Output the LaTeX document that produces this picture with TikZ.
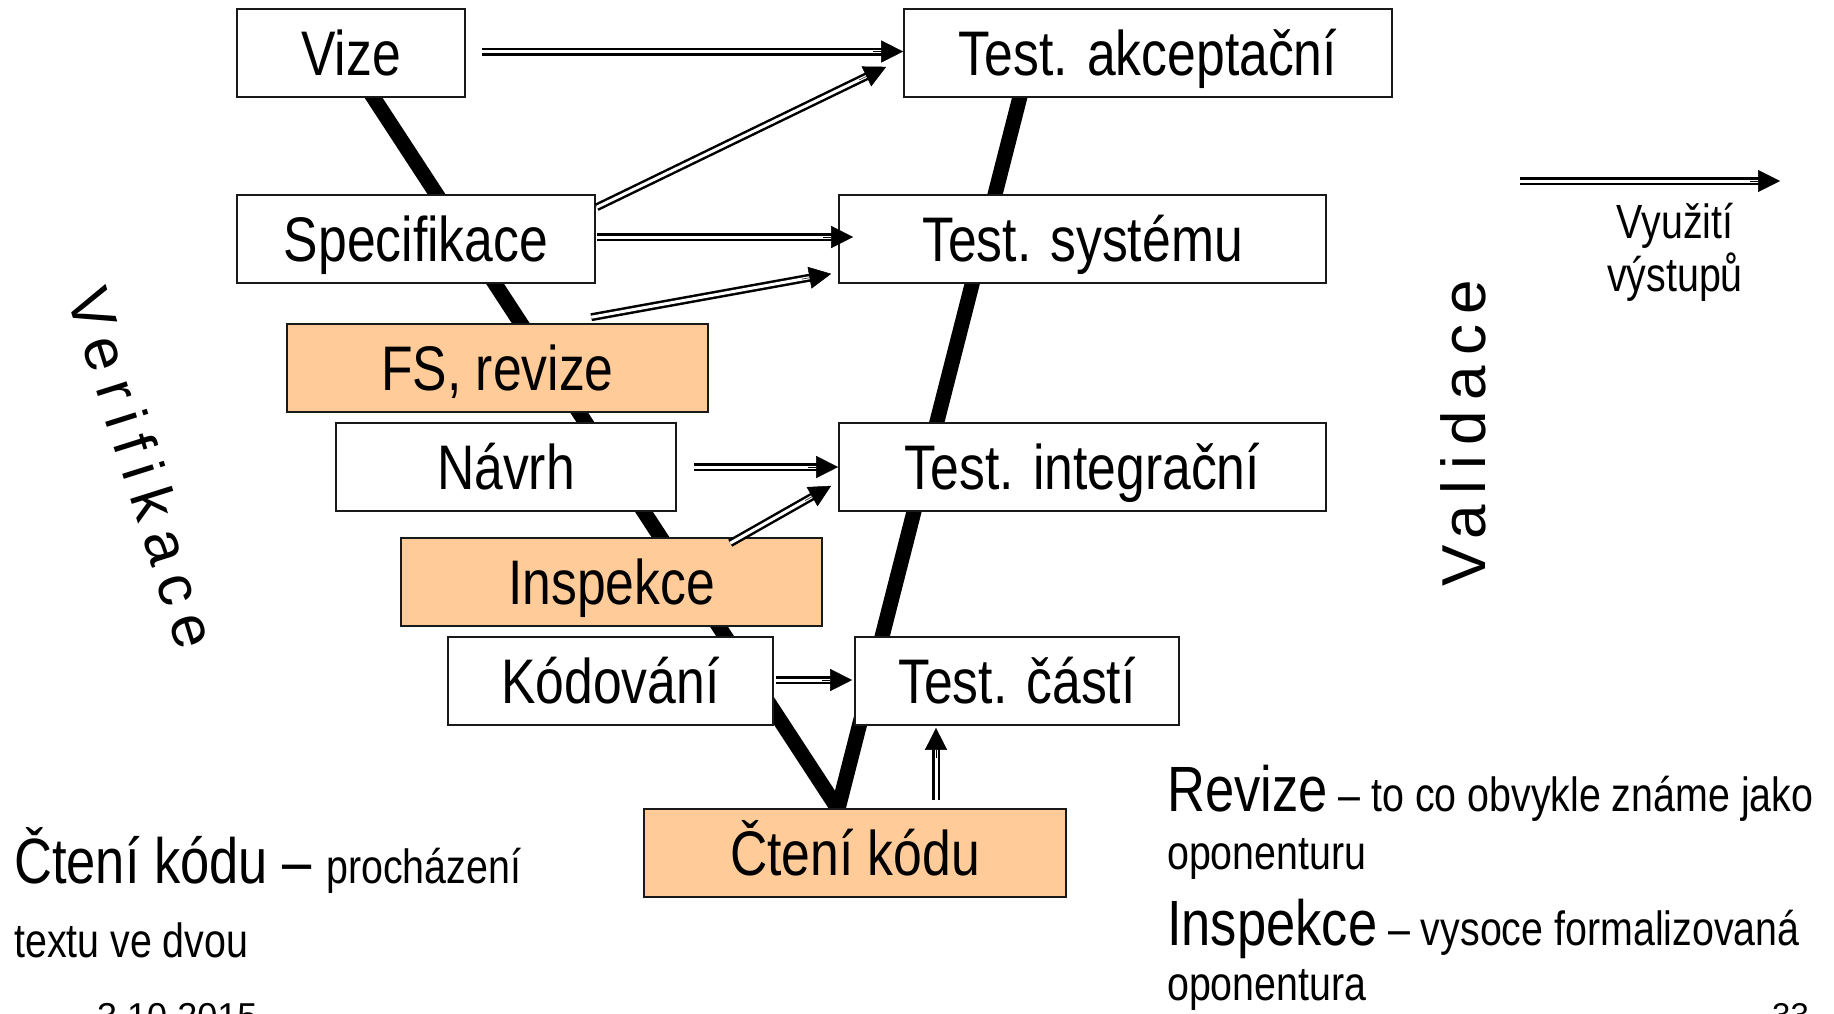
\documentclass[tikz,border=0pt]{standalone}
\usepackage{fontspec}
\setmainfont{Liberation Sans}
\newfontfamily\narrowfont{Liberation Sans}[FakeStretch=0.82]
\newfontfamily\verfont{Liberation Sans}[LetterSpace=21]
\newfontfamily\valfont{Liberation Sans}[LetterSpace=17]
\usetikzlibrary{arrows.meta,calc}

\definecolor{peach}{RGB}{255,204,153}
\definecolor{boxline}{RGB}{25,25,25}

\tikzset{
  box/.style={draw=boxline, line width=1.6pt, fill=white, inner sep=0pt,
    minimum height=88pt, text height=57pt, text depth=13pt,
    font=\narrowfont\fontsize{63}{70}\selectfont},
  hlbox/.style={box, fill=peach},
  vline/.style={line width=15pt, line join=miter, miter limit=10},
  dblshaft/.style={draw=black, line width=2.5pt, double=white,
    double distance=3pt, shorten >=18pt},
  dbltip/.style={line width=0.5pt, -{Triangle[length=22pt,width=22pt]}},
  txt/.style={inner sep=0pt, anchor=base west},
}

% double-line arrow with a solid triangular head
\newcommand{\dblarrow}[2]{%
  \draw[dblshaft] (#1) -- (#2);
  \draw[dbltip] ($(#2)!30pt!(#1)$) -- (#2);}

\begin{document}
\begin{tikzpicture}[x=1pt, y=-1pt]
\fill[white] (0,0) rectangle (1834,1013);
\useasboundingbox (0,0) rectangle (1834,1013);

% the V of the development phases
\coordinate (vtopL) at (360,77);
\coordinate (vbot) at (838,809);
\coordinate (vtopR) at (1025,77);
\draw[vline] (vtopL) -- (vbot) -- (vtopR);

% left branch
\node[box, minimum width=228pt] (vize) at (351,53) {Vize};
\node[box, minimum width=358pt] (spec) at (416,239) {Specifikace};
\node[hlbox, minimum width=421pt] (fs) at (497.5,368) {FS, revize};
\node[box, minimum width=340pt] (navrh) at (506,467) {Návrh};
\node[hlbox, minimum width=421pt] (insp) at (611.5,582) {Inspekce};
\node[box, minimum width=325pt] (kod) at (610.5,681) {Kódování};
\node[hlbox, minimum width=422pt] (cteni) at (855,853) {Čtení kódu};

% right branch
\node[box, minimum width=488pt] (akcept) at (1148,53) {Test. akceptační};
\node[box, minimum width=487pt] (system) at (1082.5,239) {Test. systému};
\node[box, minimum width=487pt] (integ) at (1082.5,467) {Test. integrační};
\node[box, minimum width=324pt] (casti) at (1017,681) {Test. částí};

% arrow end points
\coordinate (a1s) at ($(vize.east)+(16,-1.5)$);
\coordinate (a1e) at ($(akcept.west)+(0,-1.5)$);
\coordinate (a2s) at ($(spec.north east)+(1,13)$);
\coordinate (a2e) at ($(akcept.south west)+(-17,-31)$);
\coordinate (a3s) at ($(spec.east)+(1,-2)$);
\coordinate (a3e) at ($(system.west)+(15,-2)$);
\coordinate (a4s) at ($(fs.north west)+(305,-6)$);
\coordinate (a4e) at ($(system.south west)+(-7,-10)$);
\coordinate (a5s) at ($(navrh.east)+(17,0)$);
\coordinate (a5e) at (integ.west);
\coordinate (a6s) at ($(insp.north west)+(330,6)$);
\coordinate (a6e) at ($(integ.south west)+(-7,-26)$);
\coordinate (a7s) at ($(kod.east)+(2,-1)$);
\coordinate (a7e) at ($(casti.west)+(-2,-1)$);
\coordinate (a8s) at ($(cteni.north)+(81,-8)$);
\coordinate (a8e) at ($(casti.south)+(-81,2)$);

\dblarrow{a1s}{a1e}
\dblarrow{a2s}{a2e}
\dblarrow{a3s}{a3e}
\dblarrow{a4s}{a4e}
\dblarrow{a5s}{a5e}
\dblarrow{a6s}{a6e}
\dblarrow{a7s}{a7e}
\dblarrow{a8s}{a8e}

% legend arrow
\coordinate (leg1) at (1520,181);
\coordinate (leg2) at (1780,181);
\dblarrow{leg1}{leg2}
\node[anchor=base, inner sep=0pt, font=\narrowfont\fontsize{48}{54}\selectfont] (leg3) at (1675,238) {Využití};
\node[anchor=base, inner sep=0pt, font=\narrowfont\fontsize{48}{54}\selectfont] (leg4) at (1675,291) {výstupů};

% side labels
\node[inner sep=0pt, rotate=-72.5, font=\verfont\fontsize{60}{66}\selectfont] (verif) at (143,468) {Verifikace};
\node[inner sep=0pt, rotate=90, font=\valfont\fontsize{62}{68}\selectfont] (valid) at (1463,433) {Validace};

% explanatory notes
\node[txt, font=\narrowfont] (note1) at (14,883)
  {{\fontsize{64}{70}\selectfont Čtení kódu – }{\fontsize{48}{55}\selectfont procházení}};
\node[txt, font=\narrowfont\fontsize{48}{55}\selectfont] (note2) at (14,957) {textu ve dvou};

\node[txt, font=\narrowfont] (note3) at (1167,811)
  {{\fontsize{64}{70}\selectfont Revize}{\fontsize{48}{55}\selectfont{} – to co obvykle známe jako}};
\node[txt, font=\narrowfont\fontsize{48}{55}\selectfont] (note4) at (1167,869) {oponenturu};
\node[txt, font=\narrowfont] (note5) at (1167,945)
  {{\fontsize{64}{70}\selectfont Inspekce}{\fontsize{48}{55}\selectfont{} – vysoce formalizovaná}};
\node[txt, font=\narrowfont\fontsize{48}{55}\selectfont] (note6) at (1167,1000) {oponentura};

% footer
\node[txt, font=\fontsize{36}{40}\selectfont] (date) at (97,1028) {3.10.2015};
\node[txt, font=\fontsize{33}{38}\selectfont] (page) at (1772,1026) {33};
\end{tikzpicture}
\end{document}
